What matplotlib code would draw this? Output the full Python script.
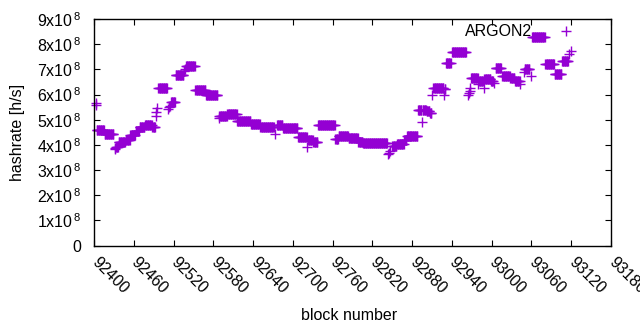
import matplotlib
matplotlib.use("Agg")
import matplotlib.pyplot as plt
import numpy as np

plt.rcParams['font.family'] = ['Liberation Sans', 'DejaVu Sans']
plt.rcParams['mathtext.fontset'] = 'custom'
plt.rcParams['mathtext.rm'] = 'Liberation Sans'
plt.rcParams['mathtext.it'] = 'Liberation Sans'

# Run-length data: block range and hashrate (x1e8 h/s)
run_start = [92403, 92403, 92404, 92416, 92431, 92432, 92433, 92437, 92448, 92455,
             92463, 92469, 92477, 92488, 92493, 92494, 92495, 92497, 92512, 92513,
             92514, 92516, 92523, 92536, 92537, 92539, 92553, 92569, 92588, 92589,
             92601, 92616, 92637, 92651, 92673, 92676, 92685, 92708, 92722, 92723,
             92731, 92738, 92764, 92769, 92784, 92799, 92806, 92843, 92845, 92847,
             92850, 92857, 92868, 92872, 92889, 92895, 92896, 92902, 92907, 92910,
             92912, 92928, 92929, 92931, 92940, 92965, 92966, 92967, 92968, 92969,
             92980, 92981, 92988, 92989, 92999, 93003, 93006, 93016, 93028, 93035,
             93043, 93048, 93050, 93059, 93061, 93081, 93095, 93106, 93117, 93119]
run_end = [92403, 92403, 92415, 92429, 92431, 92432, 92436, 92447, 92454, 92462,
           92468, 92476, 92487, 92492, 92493, 92494, 92495, 92510, 92512, 92513,
           92514, 92522, 92535, 92536, 92537, 92552, 92568, 92586, 92588, 92600,
           92615, 92636, 92650, 92671, 92673, 92684, 92707, 92721, 92722, 92730,
           92737, 92763, 92768, 92783, 92798, 92805, 92842, 92843, 92845, 92847,
           92856, 92867, 92871, 92888, 92894, 92895, 92901, 92906, 92909, 92910,
           92927, 92928, 92930, 92938, 92961, 92965, 92966, 92967, 92968, 92979,
           92980, 92987, 92988, 92998, 93002, 93003, 93014, 93027, 93034, 93042,
           93043, 93048, 93057, 93059, 93080, 93094, 93105, 93115, 93117, 93119]
run_value = [5.66, 5.57, 4.57, 4.43, 3.82, 3.86, 3.93, 4.11, 4.21, 4.38,
             4.55, 4.70, 4.78, 4.70, 5.15, 5.30, 5.45, 6.26, 5.42, 5.50,
             5.56, 5.72, 6.78, 6.95, 7.02, 7.13, 6.18, 5.98, 5.08, 5.15,
             5.22, 4.93, 4.84, 4.71, 4.44, 4.80, 4.65, 4.31, 3.92, 4.20,
             4.12, 4.77, 4.24, 4.36, 4.28, 4.12, 4.07, 3.62, 3.68, 3.75,
             3.96, 4.03, 4.20, 4.37, 5.38, 4.92, 5.38, 5.33, 5.27, 6.00,
             6.26, 6.00, 6.22, 7.25, 7.70, 5.97, 6.05, 6.12, 6.25, 6.65,
             6.40, 6.55, 6.27, 6.60, 6.55, 6.45, 7.06, 6.72, 6.65, 6.55,
             6.42, 6.88, 7.03, 6.72, 8.28, 7.22, 6.80, 7.35, 7.62, 7.72]

x_ticks = list(range(92400, 93181, 60))
y_ticks = [0, 1e8, 2e8, 3e8, 4e8, 5e8, 6e8, 7e8, 8e8, 9e8]
series_label = "ARGON2"

blocks = []
rates = []
for s, e, v in zip(run_start, run_end, run_value):
    for b in range(s, e + 1):
        blocks.append(b)
        rates.append(v * 1e8)

fig = plt.figure(figsize=(6.4, 3.3), dpi=100)
ax = fig.add_axes([94 / 640, 1 - 245.5 / 330, 517 / 640, 226.5 / 330])
color = '#9400D3'
line, = ax.plot(blocks, rates, linestyle='none', marker='+', markersize=7,
                markeredgewidth=1.0, color=color, label=series_label,
                clip_on=False)

ax.set_xlim(92400, 93180)
ax.set_ylim(0, 9e8)
ax.set_xticks(x_ticks)
ax.set_yticks(y_ticks)

def ylab(v):
    n = int(round(v / 1e8))
    return '0' if n == 0 else r'%dx10$^{\,8}$' % n

ax.set_yticklabels([ylab(v) for v in y_ticks])
ax.set_xticklabels([str(t) for t in x_ticks], rotation=-45, ha='left',
                   va='center', rotation_mode='anchor')

fs = 11.5
ax.tick_params(axis='both', direction='in', length=4, width=0.8,
               top=True, right=True, labelsize=fs)
ax.tick_params(axis='y', pad=9)
ax.tick_params(axis='x', pad=10)
for sp in ax.spines.values():
    sp.set_linewidth(1.0)

ax.set_xlabel('block number', fontsize=fs)
ax.set_ylabel('hashrate [h/s]', fontsize=fs)
ax.xaxis.set_label_coords((349 - 94) / 517, (245.5 - 316) / 226.5)
ax.yaxis.set_label_coords((18 - 94) / 517, 0.5)
ax.xaxis.label.set_va('center')
ax.yaxis.label.set_va('center')

ax.legend(handles=[line], loc='center right',
          bbox_to_anchor=((590 - 94) / 517, (245.5 - 32) / 226.5),
          frameon=False, markerfirst=False, borderaxespad=0, borderpad=0,
          handlelength=3.0, handletextpad=0.65, fontsize=fs)

fig.savefig('out.png', dpi=100)
